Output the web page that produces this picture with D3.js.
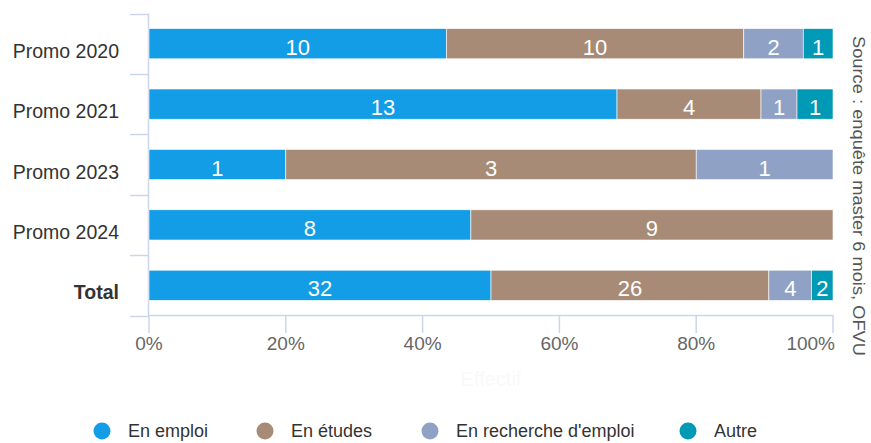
<!DOCTYPE html>
<html>
<head>
<meta charset="utf-8">
<script src="https://cdn.jsdelivr.net/npm/d3@7"></script>
<style>
html,body{margin:0;padding:0;background:#fff;}
svg{display:block;font-family:"Liberation Sans",Arial,sans-serif;}
</style>
</head>
<body>
<svg id="chart" width="871" height="443"></svg>
<script>
const categories = ["Promo 2020", "Promo 2021", "Promo 2023", "Promo 2024", "Total"];
const seriesNames = ["En emploi", "En études", "En recherche d'emploi", "Autre"];
const seriesColors = ["#129de6", "#a88b76", "#8fa2c6", "#0099b6"];
const enEmploi = [10, 13, 1, 8, 32];
const enEtudes = [10, 4, 3, 9, 26];
const enRecherche = [2, 1, 1, 0, 4];
const autre = [1, 1, 0, 0, 2];
const xTicks = [0, 0.2, 0.4, 0.6, 0.8, 1];
const axisTitle = "Effectif";
const sourceText = "Source : enquête master 6 mois, OFVU";

const seriesValues = [enEmploi, enEtudes, enRecherche, autre];
const svg = d3.select("#chart");

const x = d3.scaleLinear().domain([0, 1]).range([149, 833]);
const y = d3.scaleBand().domain(categories).range([13.5, 315.5]).paddingInner(0).paddingOuter(0);
const axisColor = "#ccd6eb";

const rows = categories.map((c, i) => {
  const o = {cat: c};
  seriesNames.forEach((s, j) => o[s] = seriesValues[j][i]);
  return o;
});
const stack = d3.stack().keys(seriesNames).offset(d3.stackOffsetExpand);
const stacked = stack(rows);

const g = svg.append("g");
g.append("line").attr("x1", 148.5).attr("x2", 148.5).attr("y1", y.range()[0]).attr("y2", y.range()[1])
  .attr("stroke", axisColor).attr("stroke-width", 1.5);
const bounds = categories.map(c => y(c)).concat([y.range()[1]]);
g.selectAll(".ytick").data(bounds).join("line")
  .attr("x1", 130).attr("x2", 148.5)
  .attr("y1", d => Math.round(d) + 0.5).attr("y2", d => Math.round(d) + 0.5)
  .attr("stroke", axisColor).attr("stroke-width", 1.5);
g.append("line").attr("x1", 148).attr("x2", 833.5).attr("y1", 315.5).attr("y2", 315.5)
  .attr("stroke", axisColor).attr("stroke-width", 1.5);
g.selectAll(".xtick").data(xTicks).join("line")
  .attr("x1", d => x(d)).attr("x2", d => x(d)).attr("y1", 315.5).attr("y2", 333)
  .attr("stroke", axisColor).attr("stroke-width", 1.5);
g.selectAll(".xlabel").data(xTicks).join("text")
  .attr("x", d => x(d)).attr("y", 350)
  .attr("text-anchor", (d, i) => i === xTicks.length - 1 ? "end" : "middle")
  .attr("dx", (d, i) => i === xTicks.length - 1 ? 2 : 0)
  .attr("font-size", 19).attr("fill", "#666")
  .text(d => d3.format(".0%")(d));

g.selectAll(".ylabel").data(categories).join("text")
  .attr("x", 119).attr("y", d => y(d) + y.bandwidth() / 2 + 14)
  .attr("text-anchor", "end").attr("font-size", 19.5)
  .attr("font-weight", d => d === "Total" ? "bold" : "normal")
  .attr("fill", "#333").text(d => d);

const barH = y.bandwidth() * 0.5;
const layers = svg.append("g").selectAll("g").data(stacked).join("g")
  .attr("fill", (d, i) => seriesColors[i]);
layers.selectAll("rect").data(d => d.map(p => ({p, key: d.key}))).join("rect")
  .attr("x", d => x(d.p[0]))
  .attr("width", d => Math.max(0, x(d.p[1]) - x(d.p[0])))
  .attr("y", d => y(d.p.data.cat) + (y.bandwidth() - barH) / 2)
  .attr("height", barH)
  .attr("stroke", "#fff").attr("stroke-width", 0.6);

const labelG = svg.append("g");
stacked.forEach(layer => {
  layer.forEach(p => {
    const v = p.data[layer.key];
    if (!v) return;
    labelG.append("text")
      .attr("x", (x(p[0]) + x(p[1])) / 2)
      .attr("y", y(p.data.cat) + y.bandwidth() / 2 + 11)
      .attr("text-anchor", "middle").attr("font-size", 22)
      .attr("fill", "#fff").text(v);
  });
});

svg.append("text").attr("x", 491).attr("y", 386).attr("text-anchor", "middle")
  .attr("font-size", 20).attr("fill", "#f9f9f9").text(axisTitle);

svg.append("text").attr("transform", "translate(853,36) rotate(90)")
  .attr("font-size", 17).attr("fill", "#555")
  .attr("textLength", 320).attr("lengthAdjust", "spacingAndGlyphs")
  .text(sourceText);

const legendX = [102, 265, 430, 688];
const legend = svg.append("g").selectAll("g").data(seriesNames).join("g")
  .attr("transform", (d, i) => `translate(${legendX[i]},431)`);
legend.append("circle").attr("r", 8.5).attr("fill", (d, i) => seriesColors[i]);
legend.append("text").attr("x", 26).attr("y", 6).attr("font-size", 18)
  .attr("fill", "#333").text(d => d);
</script>
</body>
</html>
